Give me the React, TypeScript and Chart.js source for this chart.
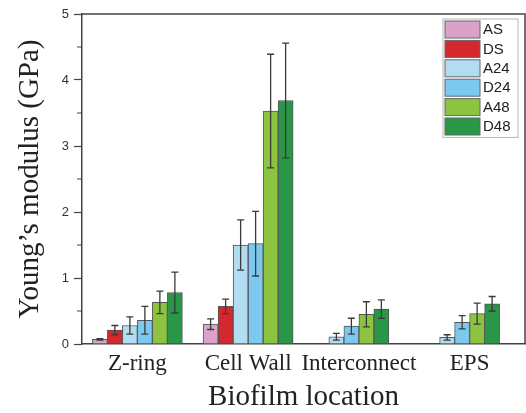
import React, { useEffect, useRef } from "react";
import { Chart, registerables } from "chart.js";

Chart.register(...registerables);

const categories = ["Z-ring", "Cell Wall", "Interconnect", "EPS"];
const seriesNames = ["AS", "DS", "A24", "D24", "A48", "D48"];
const AS = [0.07, 0.3, null, null];
const AS_err = [0.01, 0.08, null, null];
const DS = [0.21, 0.57, null, null];
const DS_err = [0.07, 0.11, null, null];
const A24 = [0.28, 1.5, 0.11, 0.1];
const A24_err = [0.13, 0.38, 0.05, 0.04];
const D24 = [0.36, 1.52, 0.27, 0.33];
const D24_err = [0.21, 0.49, 0.12, 0.1];
const A48 = [0.63, 3.53, 0.45, 0.46];
const A48_err = [0.17, 0.86, 0.19, 0.16];
const D48 = [0.78, 3.69, 0.53, 0.61];
const D48_err = [0.31, 0.87, 0.14, 0.11];
const colors = ["#d9a2c8", "#d5282e", "#b1dcf1", "#7dc8ee", "#8cc43f", "#2a9647"];
const yTicks = [0, 1, 2, 3, 4, 5];
const yMinorTicks = [0.5, 1.5, 2.5, 3.5, 4.5];

const values = [AS, DS, A24, D24, A48, D48];
const errors = [AS_err, DS_err, A24_err, D24_err, A48_err, D48_err];

const errorBarPlugin = {
  id: "errorBars",
  afterDatasetsDraw(chart: any) {
    const ctx = chart.ctx;
    const ys = chart.scales.y;
    ctx.save();
    ctx.strokeStyle = "#3a3a3a";
    ctx.lineWidth = 1.3;
    chart.data.datasets.forEach((ds: any, i: number) => {
      const meta = chart.getDatasetMeta(i);
      meta.data.forEach((el: any, j: number) => {
        const v = ds.data[j];
        const e = ds.errors[j];
        if (v == null || e == null) return;
        const x = el.x;
        const yt = ys.getPixelForValue(v + e);
        const yb = ys.getPixelForValue(v - e);
        ctx.beginPath();
        ctx.moveTo(x, yt);
        ctx.lineTo(x, yb);
        ctx.moveTo(x - 3.5, yt);
        ctx.lineTo(x + 3.5, yt);
        ctx.moveTo(x - 3.5, yb);
        ctx.lineTo(x + 3.5, yb);
        ctx.stroke();
      });
    });
    ctx.restore();
  },
};

const framePlugin = {
  id: "frame",
  afterDraw(chart: any) {
    const ctx = chart.ctx;
    const a = chart.chartArea;
    const ys = chart.scales.y;
    ctx.save();
    ctx.strokeStyle = "#444";
    ctx.lineWidth = 1.5;
    ctx.beginPath();
    ctx.moveTo(a.left, a.top);
    ctx.lineTo(a.right, a.top);
    ctx.lineTo(a.right, a.bottom);
    ctx.stroke();
    ctx.lineWidth = 1.2;
    ctx.beginPath();
    yMinorTicks.forEach((t) => {
      const y = ys.getPixelForValue(t);
      ctx.moveTo(a.left - 5, y);
      ctx.lineTo(a.left, y);
    });
    ctx.stroke();
    ctx.restore();
  },
};

const legendPlugin = {
  id: "boxLegend",
  afterDraw(chart: any) {
    const ctx = chart.ctx;
    const a = chart.chartArea;
    const boxRight = a.right - 7;
    const boxLeft = boxRight - 75;
    const boxTop = a.top + 5;
    const pitch = 19.4;
    const n = chart.data.datasets.length;
    ctx.save();
    ctx.fillStyle = "#fff";
    ctx.fillRect(boxLeft, boxTop, 75, n * pitch + 2);
    ctx.strokeStyle = "#b5b5b5";
    ctx.lineWidth = 1;
    ctx.strokeRect(boxLeft, boxTop, 75, n * pitch + 2);
    ctx.font = "15px 'Liberation Sans', Arial, sans-serif";
    ctx.textBaseline = "middle";
    ctx.textAlign = "left";
    chart.data.datasets.forEach((ds: any, i: number) => {
      const y = boxTop + 2 + i * pitch;
      ctx.fillStyle = ds.backgroundColor;
      ctx.fillRect(boxLeft + 2, y, 35, 17);
      ctx.strokeStyle = "#666";
      ctx.strokeRect(boxLeft + 2, y, 35, 17);
      ctx.fillStyle = "#222";
      ctx.fillText(ds.label, boxLeft + 40, y + 9);
    });
    ctx.restore();
  },
};

export default function App() {
  const ref = useRef<HTMLCanvasElement>(null);
  useEffect(() => {
    const chart = new Chart(ref.current as HTMLCanvasElement, {
      type: "bar",
      data: {
        labels: categories,
        datasets: seriesNames.map((name, i) => ({
          label: name,
          data: values[i],
          errors: errors[i],
          backgroundColor: colors[i],
          borderColor: "#555",
          borderWidth: 1,
          barThickness: 15,
          skipNull: true,
        })) as any,
      },
      options: {
        responsive: false,
        animation: false,
        layout: { padding: { top: 14, right: 1, left: 0, bottom: 0 } },
        plugins: { legend: { display: false }, tooltip: { enabled: false } },
        scales: {
          x: {
            grid: { display: false, drawTicks: false },
            border: { color: "#444", width: 1.5 },
            ticks: {
              font: { family: "'Liberation Serif', 'Times New Roman', serif", size: 23 },
              color: "#222",
              padding: 6,
              maxRotation: 0,
              minRotation: 0,
              autoSkip: false,
            },
            title: {
              display: true,
              text: "Biofilm location",
              font: { family: "'Liberation Serif', 'Times New Roman', serif", size: 29, lineHeight: 1.05 },
              color: "#222",
              padding: 0,
            },
            afterFit: (s: any) => {
              s.height = 69;
            },
          },
          y: {
            min: 0,
            max: 5,
            afterBuildTicks: (s: any) => {
              s.ticks = yTicks.map((v) => ({ value: v }));
            },
            grid: { drawOnChartArea: false, drawTicks: true, tickLength: 8, tickColor: "#444", tickWidth: 1.2 },
            border: { color: "#444", width: 1.5 },
            ticks: {
              font: { family: "'Liberation Sans', Arial, sans-serif", size: 13 },
              color: "#333",
              padding: 5,
            },
            title: {
              display: true,
              text: "Young’s modulus (GPa)",
              font: { family: "'Liberation Serif', 'Times New Roman', serif", size: 29, lineHeight: 1.05 },
              color: "#222",
              padding: { top: 15, bottom: 0 },
            },
            afterFit: (s: any) => {
              s.width = 82;
            },
          },
        },
      } as any,
      plugins: [errorBarPlugin, framePlugin, legendPlugin],
    });
    return () => chart.destroy();
  }, []);
  return (
    <div style={{ position: "fixed", left: 0, top: 0, width: 526, height: 413, background: "#fff" }}>
      <canvas ref={ref} width={526} height={413} />
    </div>
  );
}
